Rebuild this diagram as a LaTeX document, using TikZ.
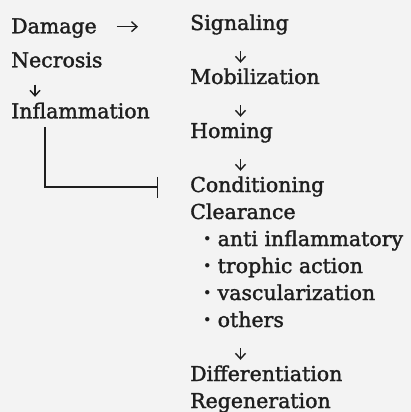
\documentclass[tikz,border=0pt]{standalone}
\usepackage{fontspec}
\setmainfont{DejaVu Serif}[FakeBold=1.6]
\newfontfamily\cjk{Noto Sans CJK JP}
\usetikzlibrary{arrows.meta}
\definecolor{paper}{RGB}{243,243,243}
\definecolor{ink}{RGB}{30,30,30}
\tikzset{
	lbl/.style={anchor=base west, inner sep=0pt, text height=14pt, text depth=4.5pt, text=ink, font=\fontsize{20.5}{24}\selectfont},
	flow/.style={draw=ink, line width=1.5pt, -{Straight Barb[length=5.5pt,width=10pt,line width=1.4pt]}},
	down/.style={flow, shorten <=16.5pt, shorten >=7pt},
	block/.style={draw=ink, line width=1.6pt, -{Bar[width=21pt,line width=1.6pt]}}
}
\newcommand{\dotitem}[1]{{\cjk ・}#1}

\begin{document}
\begin{tikzpicture}[x=1pt,y=-1pt]
		%%%%% START %%%%%
		\fill[paper] (0,0) rectangle (411,412);
		\useasboundingbox (0,0) rectangle (411,412);
		
		\coordinate (colx) at (240.5,0);
		\coordinate (leftx) at (35,0);
		\coordinate (barx) at (44.7,0);
		
		% left column
		\node[lbl] (dam) at (11,33.3) {Damage};
		\node[lbl] (nec) at (11,67.3) {Necrosis};
		\node[lbl] (inf) at (11,118.3) {Inflammation};
		
		% right column
		\node[lbl] (sig) at (190,30) {Signaling};
		\node[lbl] (mob) at (190,84) {Mobilization};
		\node[lbl] (hom) at (190,138) {Homing};
		\node[lbl] (con) at (190,192) {Conditioning};
		\node[lbl] (clr) at (190,219) {Clearance};
		\node[lbl] (anti) at (197,246) {\dotitem{anti inflammatory}};
		\node[lbl] (tro) at (197,273) {\dotitem{trophic action}};
		\node[lbl] (vas) at (197,300) {\dotitem{vascularization}};
		\node[lbl] (oth) at (197,327) {\dotitem{others}};
		\node[lbl] (dif) at (190,381) {Differentiation};
		\node[lbl] (reg) at (190,408) {Regeneration};
		
		\draw[flow, shorten <=20pt, shorten >=52pt] ([yshift=1.85pt]dam.east) -- ([yshift=1.85pt]dam.east -| sig.west);
		\draw[flow, shorten <=12.5pt, shorten >=7.3pt] (nec.south -| leftx) -- (inf.north -| leftx);
		
		\draw[down] (sig.south -| colx) -- (mob.north -| colx);
		\draw[down] (mob.south -| colx) -- (hom.north -| colx);
		\draw[down] (hom.south -| colx) -- (con.north -| colx);
		\draw[down] (oth.south -| colx) -- (dif.north -| colx);
		
		\draw[block, shorten <=4.2pt, shorten >=31.7pt] (inf.south -| barx) |- (con.west);
		%%%%% END %%%%%
\end{tikzpicture}
\end{document}
